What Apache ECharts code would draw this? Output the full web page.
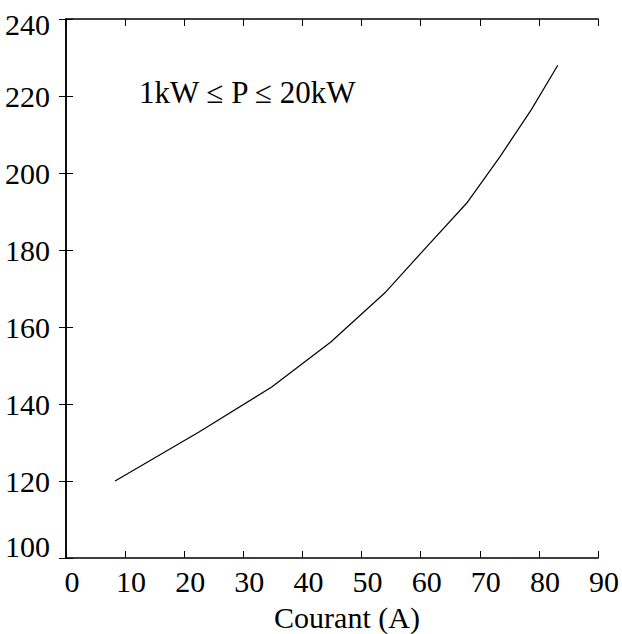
<!DOCTYPE html>
<html>
<head>
<meta charset="utf-8">
<title>Courant</title>
<script src="https://cdn.jsdelivr.net/npm/echarts@6/dist/echarts.min.js"></script>
<style>
  html, body { margin: 0; padding: 0; background: #fff; }
  #chart { width: 622px; height: 634px; }
</style>
</head>
<body>
<div id="chart"></div>
<script>
// Current (A) and the corresponding curve values
const courant = [8.3, 22.5, 34.8, 44.8, 54.1, 60.7, 67.8, 73.4, 78.7, 83.2];
const valeurs = [120, 132.7, 144.4, 156.1, 169.1, 180.3, 192.2, 204.2, 216.4, 228];
const xTicks = [0, 10, 20, 30, 40, 50, 60, 70, 80, 90];
const yTicks = [100, 120, 140, 160, 180, 200, 220, 240];
const annotation = '1kW \u2264 P \u2264 20kW';
const xName = 'Courant (A)';

const font = '"Liberation Serif", "Times New Roman", serif';
const black = '#000';
const size = 30;

const chart = echarts.init(document.getElementById('chart'), null, { renderer: 'svg' });

const frameLine = { show: true, lineStyle: { color: black, width: 1.5 } };
const innerTick = { show: true, inside: true, length: 7, lineStyle: { color: black, width: 1 } };

// End labels of the y axis are nudged inward, away from the frame corners
function yLabel(v) {
  if (v === yTicks[yTicks.length - 1]) return '{top|' + v + '}';
  if (v === yTicks[0]) return '{bottom|' + v + '}';
  return String(v);
}

chart.setOption({
  animation: false,
  backgroundColor: '#fff',
  title: {
    text: annotation,
    left: 134,
    top: 72,
    textStyle: { fontFamily: font, fontSize: 31, fontWeight: 'normal', color: black }
  },
  grid: { left: 66, right: 24, top: 19, bottom: 76, outerBoundsMode: 'none', containLabel: false },
  xAxis: [
    {
      type: 'value', position: 'bottom',
      min: xTicks[0], max: xTicks[xTicks.length - 1], interval: 10,
      axisLine: frameLine, axisTick: innerTick, splitLine: { show: false },
      axisLabel: {
        fontFamily: font, fontSize: size, color: black, margin: 8,
        padding: [0, 0, 0, 12],
        formatter: v => xTicks.includes(v) ? String(v) : ''
      },
      name: xName, nameLocation: 'middle', nameGap: 46,
      nameTextStyle: {
        fontFamily: font, fontSize: size, lineHeight: 26, color: black,
        padding: [0, 0, 0, 30]
      }
    },
    {
      type: 'value', position: 'top',
      min: xTicks[0], max: xTicks[xTicks.length - 1], interval: 10,
      axisLine: frameLine, axisTick: innerTick, splitLine: { show: false },
      axisLabel: { show: false }
    }
  ],
  yAxis: [
    {
      type: 'value', position: 'left',
      min: yTicks[0], max: yTicks[yTicks.length - 1], interval: 20,
      axisLine: frameLine, axisTick: innerTick, splitLine: { show: false },
      axisLabel: {
        fontFamily: font, fontSize: size, color: black, margin: 16,
        formatter: yLabel,
        rich: {
          top: { fontFamily: font, fontSize: size, color: black, padding: [10, 0, 0, 0] },
          bottom: { fontFamily: font, fontSize: size, color: black, padding: [0, 0, 24, 0] }
        }
      }
    },
    {
      type: 'value', position: 'right',
      min: yTicks[0], max: yTicks[yTicks.length - 1], interval: 20,
      axisLine: frameLine, axisTick: innerTick, splitLine: { show: false },
      axisLabel: { show: false }
    }
  ],
  series: [{
    type: 'line',
    data: courant.map((x, i) => [x, valeurs[i]]),
    showSymbol: false,
    smooth: false,
    lineStyle: { color: black, width: 1.2 }
  }]
});
</script>
</body>
</html>
